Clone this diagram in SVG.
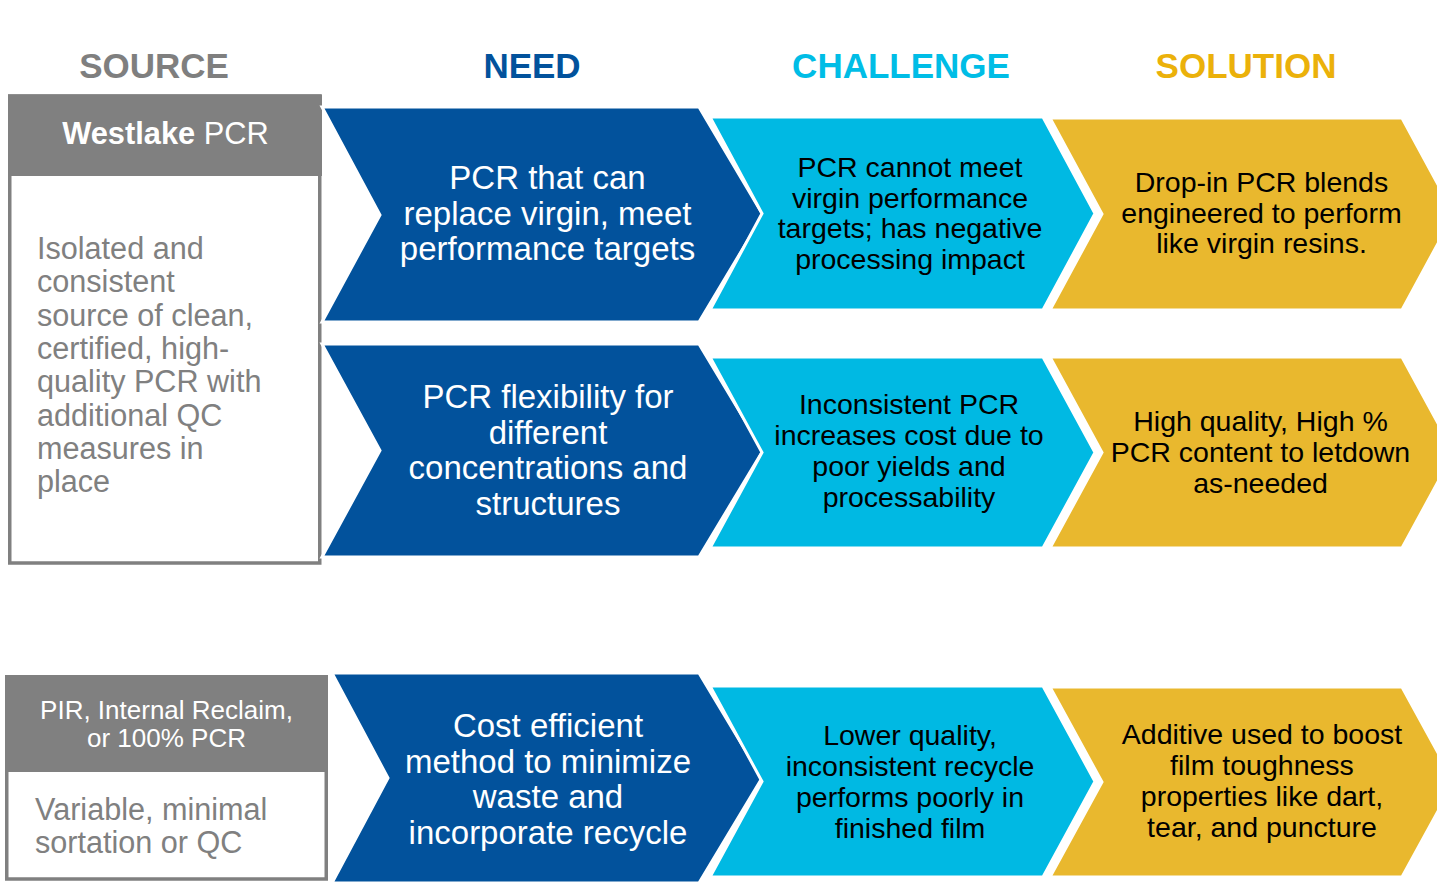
<svg xmlns="http://www.w3.org/2000/svg" width="1437" height="882" viewBox="0 0 1437 882">
  <style>
    .hdr { font-family: "Liberation Sans", Arial, sans-serif; font-weight: bold; font-size: 35px; text-anchor: middle; }
    .need { fill: #02529C; stroke: #FFFFFF; stroke-width: 3; stroke-linejoin: miter; }
    .chal { fill: #00B9E3; stroke: #FFFFFF; stroke-width: 3; stroke-linejoin: miter; }
    .sol { fill: #E9B82E; stroke: #FFFFFF; stroke-width: 3; stroke-linejoin: miter; }
    .srcHead { fill: #808080; }
    .srcBody { fill: #FFFFFF; stroke: #808080; stroke-width: 3.5; }
    .t-need { font-family: "Liberation Sans", Arial, sans-serif; font-size: 33px; fill: #FFFFFF; text-anchor: middle; }
    .t-dark { font-family: "Liberation Sans", Arial, sans-serif; font-size: 28.5px; fill: #000000; text-anchor: middle; }
    .t-src { font-family: "Liberation Sans", Arial, sans-serif; font-size: 30.6px; fill: #808080; }
    .t-srcHead { font-family: "Liberation Sans", Arial, sans-serif; fill: #FFFFFF; text-anchor: middle; }
  </style>

  <rect width="1437" height="882" fill="#FFFFFF"/>

  <!-- column headings -->
  <g id="headings">
    <text class="hdr" x="154" y="78" fill="#7F7F7F">SOURCE</text>
    <text class="hdr" x="532" y="78" fill="#02529C">NEED</text>
    <text class="hdr" x="901" y="78" fill="#00BDE6">CHALLENGE</text>
    <text class="hdr" x="1246" y="78" fill="#EBB10A">SOLUTION</text>
  </g>

  <!-- source boxes -->
  <g id="source-westlake">
    <rect class="srcBody" x="9.75" y="96" width="310" height="467"/>
    <rect class="srcHead" x="8" y="94.5" width="314" height="81.5"/>
    <text class="t-srcHead" x="165.5" y="144" font-size="30.8"><tspan font-weight="bold">Westlake</tspan> PCR</text>
    <text class="t-src" x="37" y="259">Isolated and</text>
    <text class="t-src" x="37" y="292.3">consistent</text>
    <text class="t-src" x="37" y="325.6">source of clean,</text>
    <text class="t-src" x="37" y="358.9">certified, high-</text>
    <text class="t-src" x="37" y="392.2">quality PCR with</text>
    <text class="t-src" x="37" y="425.5">additional QC</text>
    <text class="t-src" x="37" y="458.8">measures in</text>
    <text class="t-src" x="37" y="492.1">place</text>
  </g>

  <g id="source-other">
    <rect class="srcBody" x="6.75" y="677" width="319.5" height="202"/>
    <rect class="srcHead" x="5" y="675" width="323" height="97"/>
    <text class="t-srcHead" font-size="26" x="166.5" y="719">PIR, Internal Reclaim,</text>
    <text class="t-srcHead" font-size="26" x="166.5" y="747">or 100% PCR</text>
    <text class="t-src" font-size="31.3" x="35" y="820">Variable, minimal</text>
    <text class="t-src" font-size="31.3" x="35" y="853">sortation or QC</text>
  </g>

  <!-- row 1 chevrons -->
  <g id="need-1">
    <polygon class="need" points="322,107 699,107 763,215 699,322 322,322 380,215"/>
    <text class="t-need" x="547.5" y="189">PCR that can</text>
    <text class="t-need" x="547.5" y="224.5">replace virgin, meet</text>
    <text class="t-need" x="547.5" y="260">performance targets</text>
  </g>
  <g id="challenge-1">
    <polygon class="chal" points="710,117 1043,117 1095,213.5 1043,310 710,310 762,213.5"/>
    <text class="t-dark" x="910" y="177">PCR cannot meet</text>
    <text class="t-dark" x="910" y="207.5">virgin performance</text>
    <text class="t-dark" x="910" y="238">targets; has negative</text>
    <text class="t-dark" x="910" y="268.5">processing impact</text>
  </g>
  <g id="solution-1">
    <polygon class="sol" points="1050,118 1402,118 1454,214 1402,310 1050,310 1102,214"/>
    <text class="t-dark" x="1261.5" y="192">Drop-in PCR blends</text>
    <text class="t-dark" x="1261.5" y="223">engineered to perform</text>
    <text class="t-dark" x="1261.5" y="253">like virgin resins.</text>
  </g>

  <!-- row 2 chevrons -->
  <g id="need-2">
    <polygon class="need" points="322,344 699,344 763,450.5 699,557 322,557 380,450.5"/>
    <text class="t-need" x="548" y="408">PCR flexibility for</text>
    <text class="t-need" x="548" y="443.5">different</text>
    <text class="t-need" x="548" y="479">concentrations and</text>
    <text class="t-need" x="548" y="514.5">structures</text>
  </g>
  <g id="challenge-2">
    <polygon class="chal" points="710,357 1043,357 1095,452.5 1043,548 710,548 762,452.5"/>
    <text class="t-dark" x="909" y="414">Inconsistent PCR</text>
    <text class="t-dark" x="909" y="445">increases cost due to</text>
    <text class="t-dark" x="909" y="476">poor yields and</text>
    <text class="t-dark" x="909" y="507">processability</text>
  </g>
  <g id="solution-2">
    <polygon class="sol" points="1050,357 1402,357 1454,452.5 1402,548 1050,548 1102,452.5"/>
    <text class="t-dark" x="1260.5" y="431">High quality, High %</text>
    <text class="t-dark" x="1260.5" y="462">PCR content to letdown</text>
    <text class="t-dark" x="1260.5" y="493">as-needed</text>
  </g>

  <!-- row 3 chevrons -->
  <g id="need-3">
    <polygon class="need" points="332,673 699,673 762,778 699,883 332,883 388,778"/>
    <text class="t-need" x="548" y="737">Cost efficient</text>
    <text class="t-need" x="548" y="772.5">method to minimize</text>
    <text class="t-need" x="548" y="808">waste and</text>
    <text class="t-need" x="548" y="843.5">incorporate recycle</text>
  </g>
  <g id="challenge-3">
    <polygon class="chal" points="710,686 1043,686 1095,781.5 1043,877 710,877 762,781.5"/>
    <text class="t-dark" x="910" y="745">Lower quality,</text>
    <text class="t-dark" x="910" y="776">inconsistent recycle</text>
    <text class="t-dark" x="910" y="807">performs poorly in</text>
    <text class="t-dark" x="910" y="838">finished film</text>
  </g>
  <g id="solution-3">
    <polygon class="sol" points="1050,687 1402,687 1454,782 1402,877 1050,877 1102,782"/>
    <text class="t-dark" x="1262" y="744">Additive used to boost</text>
    <text class="t-dark" x="1262" y="775">film toughness</text>
    <text class="t-dark" x="1262" y="806">properties like dart,</text>
    <text class="t-dark" x="1262" y="837">tear, and puncture</text>
  </g>

  <!-- no connectors: the chevron shapes carry the flow -->
  <g id="connectors"/>
</svg>
